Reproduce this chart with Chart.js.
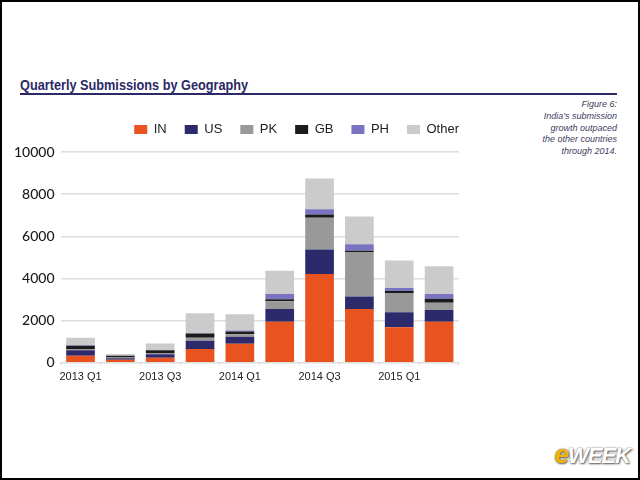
<!DOCTYPE html>
<html>
<head>
<meta charset="utf-8">
<script src="https://cdn.jsdelivr.net/npm/chart.js@4"></script>
<style>
  html, body { margin: 0; padding: 0; }
  body { width: 640px; height: 480px; position: relative; background: #fff; overflow: hidden; }
  .frame { position: absolute; left: 0; top: 0; width: 636px; height: 476px; border: 2px solid #000; }
  .title { position: absolute; left: 20px; top: 76px; font: bold 15.5px "Liberation Sans", Arial, sans-serif; color: #2b2966; transform: scaleX(0.82); transform-origin: left top; white-space: nowrap; }
  .rule { position: absolute; left: 20px; top: 93px; width: 597px; height: 2px; background: #2b2966; }
  .note { position: absolute; right: 23px; top: 99px; text-align: right; font: italic 9px/11.8px "Liberation Sans", Arial, sans-serif; color: #3f3d5e; }
  .chart { position: absolute; left: 8px; top: 105px; width: 455px; height: 284px; }
  .logo { position: absolute; right: 10px; bottom: 10px; font: italic bold 22px "Liberation Sans", Arial, sans-serif; color: #fff; text-shadow: 0 0 2px #777, 1px 1px 2px #555; letter-spacing: -1px; }
  .logo span { color: #f0b400; font-size: 26px; }
</style>
</head>
<body>
<div class="frame"></div>
<div class="title">Quarterly Submissions by Geography</div>
<div class="rule"></div>
<div class="note">Figure 6:<br>India's submission<br>growth outpaced<br>the other countries<br>through 2014.</div>
<div class="chart"><canvas id="geo-chart"></canvas></div>
<div class="logo"><span>e</span>WEEK</div>
<script>
const quarters = ['2013 Q1', '2013 Q2', '2013 Q3', '2013 Q4', '2014 Q1', '2014 Q2', '2014 Q3', '2014 Q4', '2015 Q1', '2015 Q2'];
const IN = [340, 140, 240, 660, 900, 1945, 4210, 2555, 1690, 1945];
const US = [260, 80, 170, 385, 340, 610, 1160, 595, 705, 560];
const PK = [60, 30, 60, 145, 110, 370, 1510, 2105, 915, 340];
const GB = [150, 80, 120, 195, 130, 95, 160, 65, 95, 195];
const PH = [20, 10, 10, 20, 50, 240, 240, 305, 145, 225];
const OTHER = [360, 80, 315, 945, 770, 1110, 1460, 1320, 1300, 1320];
const yTicks = [0, 2000, 4000, 6000, 8000, 10000];

const seriesColors = ['#e8531f', '#2d2a6c', '#999999', '#1b1b1e', '#7a73c0', '#cbcbcb'];

function makeSet(label, data, i) {
  return {
    label: label,
    data: data,
    backgroundColor: seriesColors[i],
    borderWidth: 0,
    barPercentage: 0.72,
    categoryPercentage: 1,
  };
}

// more room under the legend, and push it flush with the plot's right edge
const legendTweak = {
  id: 'legendTweak',
  beforeInit(chart) {
    const fit = chart.legend.fit;
    chart.legend.fit = function () {
      fit.call(this);
      this.height += 6;
    };
  },
  afterLayout(chart) {
    chart.legend.right += 18;
  },
};

new Chart(document.getElementById('geo-chart'), {
  type: 'bar',
  data: {
    labels: quarters,
    datasets: [
      makeSet('IN', IN, 0),
      makeSet('US', US, 1),
      makeSet('PK', PK, 2),
      makeSet('GB', GB, 3),
      makeSet('PH', PH, 4),
      makeSet('Other', OTHER, 5),
    ],
  },
  plugins: [legendTweak],
  options: {
    responsive: true,
    maintainAspectRatio: false,
    animation: false,
    layout: { padding: { right: 4 } },
    plugins: {
      tooltip: { enabled: false },
      legend: {
        position: 'top',
        align: 'end',
        labels: {
          boxWidth: 13,
          boxHeight: 9,
          padding: 18,
          color: '#222',
          font: { family: '"Liberation Sans", Arial, sans-serif', size: 13 },
        },
      },
    },
    scales: {
      x: {
        stacked: true,
        grid: { drawOnChartArea: false, tickLength: 3, color: '#dddddd' },
        border: { color: '#dddddd' },
        ticks: {
          autoSkip: false,
          maxRotation: 0,
          padding: 5,
          color: '#222',
          font: { family: '"Liberation Sans", Arial, sans-serif', size: 11 },
          callback: function (v, i) { return i % 2 === 0 ? quarters[i] : ''; },
        },
      },
      y: {
        stacked: true,
        min: 0,
        max: 10000,
        afterBuildTicks: function (axis) { axis.ticks = yTicks.map(v => ({ value: v })); },
        grid: { color: '#dedede', lineWidth: 1.5, drawTicks: false },
        border: { display: false },
        ticks: {
          padding: 6,
          color: '#1a1a1a',
          font: { family: 'Lato, sans-serif', size: 14, weight: '500' },
          callback: function (v) { return String(v); },
        },
      },
    },
  },
});
</script>
</body>
</html>
